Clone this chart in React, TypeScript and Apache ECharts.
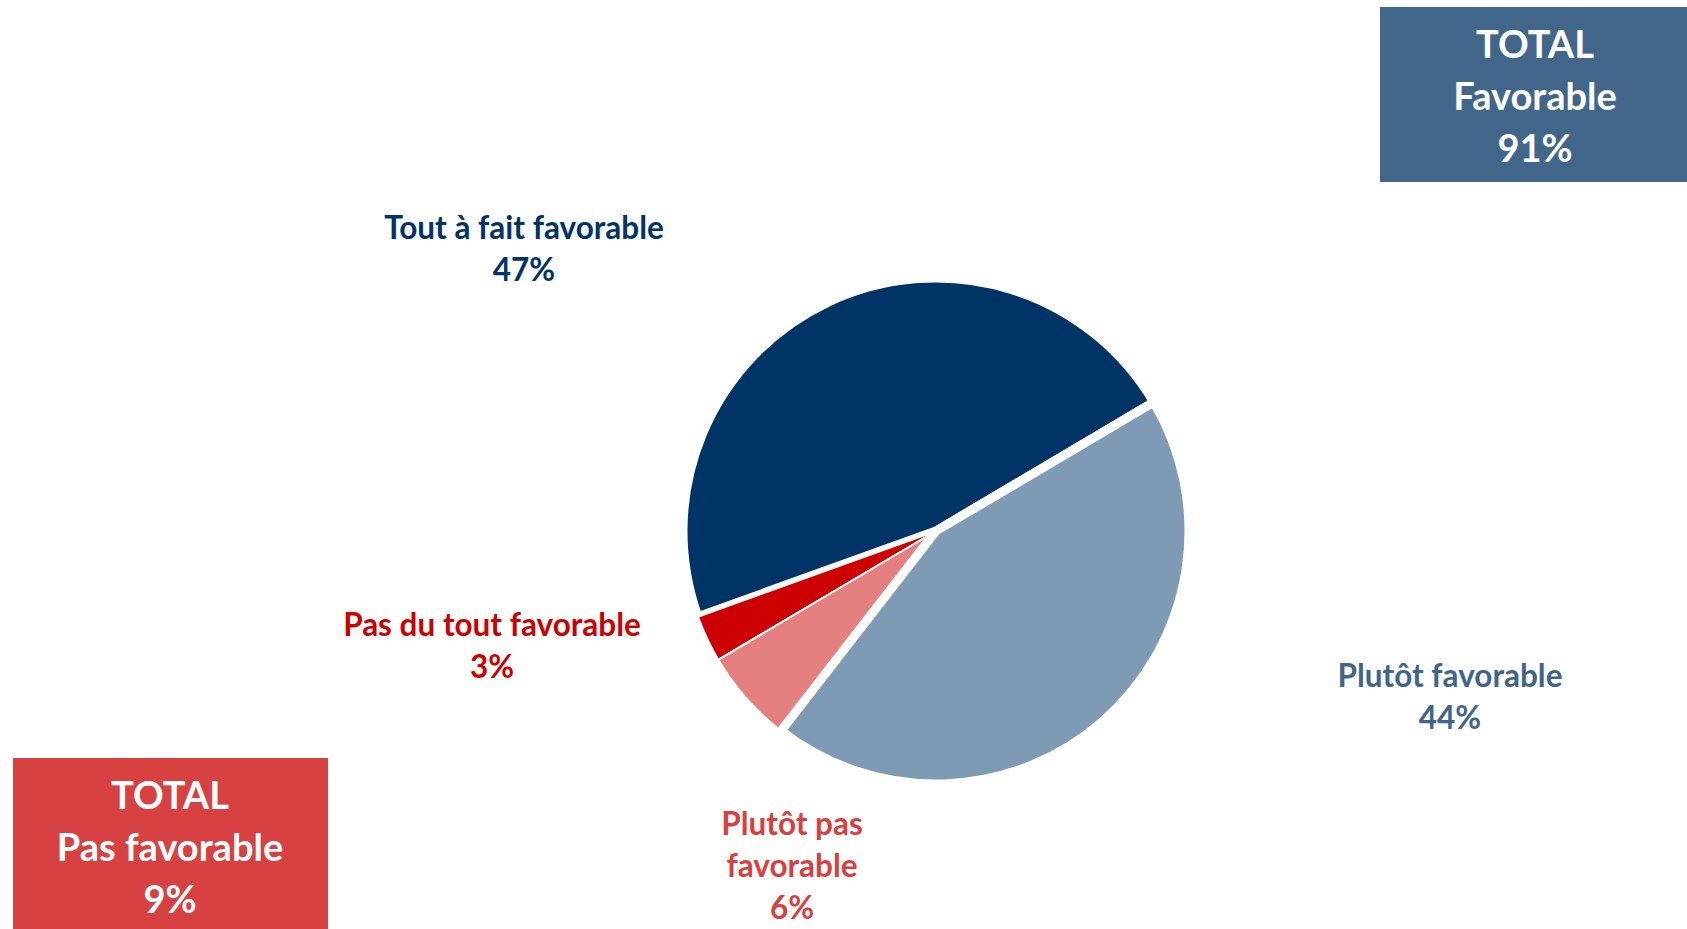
import React, { useEffect, useRef } from "react";
import * as echarts from "echarts";

// Data
const categories = [
  "Tout à fait favorable",
  "Pas du tout favorable",
  "Plutôt pas favorable",
  "Plutôt favorable",
];
const labelLines = [
  ["Tout à fait favorable"],
  ["Pas du tout favorable"],
  ["Plutôt pas", "favorable"],
  ["Plutôt favorable"],
];
const values = [47, 3, 6, 44];
const sliceColors = ["#003366", "#CC0000", "#E48080", "#7F9AB4"];
const labelColors = ["#003366", "#CC0000", "#D84040", "#41658A"];
const borderWidths = [9, 2, 2, 9];
// label anchor positions (centre of text block)
const labelPos = [
  [524, 248],
  [492, 645],
  [792, 865],
  [1450, 696],
];
const favorableIdx = [0, 3];
const pasFavorableIdx = [1, 2];

const FONT = "Lato";

export default function App() {
  const ref = useRef<HTMLDivElement>(null);
  useEffect(() => {
    if (!ref.current) return;
    const chart = echarts.init(ref.current, null, { renderer: "svg" });
    const totalFav = favorableIdx.reduce((s, i) => s + values[i], 0);
    const totalPas = pasFavorableIdx.reduce((s, i) => s + values[i], 0);
    chart.setOption({
      animation: false,
      backgroundColor: "#ffffff",
      series: [
        {
          type: "pie",
          center: [936, 531],
          radius: 253,
          startAngle: 30.6,
          clockwise: false,
          data: categories.map((c, i) => ({
            name: c,
            value: values[i],
            itemStyle: {
              color: sliceColors[i],
              borderColor: "#ffffff",
              borderWidth: borderWidths[i],
            },
            label: { color: labelColors[i] },
          })),
          label: {
            show: true,
            position: "outside",
            fontFamily: FONT,
            fontWeight: "bold",
            fontSize: 31.5,
            lineHeight: 42,
            align: "center",
            formatter: (p: any) =>
              [...labelLines[p.dataIndex], `${p.value}%`].join("\n"),
          },
          labelLine: { show: false },
          labelLayout: (p: any) => ({
            x: labelPos[p.dataIndex][0],
            y: labelPos[p.dataIndex][1],
            align: "center",
            verticalAlign: "middle",
          }),
          emphasis: { disabled: true },
        },
      ],
      graphic: [
        {
          type: "rect",
          shape: { x: 1380, y: 7, width: 307, height: 175 },
          style: { fill: "#42658A" },
        },
        {
          type: "text",
          x: 1535,
          y: 95,
          style: {
            text: `TOTAL\nFavorable\n${totalFav}%`,
            fill: "#ffffff",
            font: `bold 38px ${FONT}`,
            lineHeight: 52,
            align: "center",
            verticalAlign: "middle",
          },
        },
        {
          type: "rect",
          shape: { x: 13, y: 758, width: 315, height: 180 },
          style: { fill: "#D84141" },
        },
        {
          type: "text",
          x: 170,
          y: 846,
          style: {
            text: `TOTAL\nPas favorable\n${totalPas}%`,
            fill: "#ffffff",
            font: `bold 38px ${FONT}`,
            lineHeight: 52,
            align: "center",
            verticalAlign: "middle",
          },
        },
      ],
    });
    return () => chart.dispose();
  }, []);
  return (
    <div
      ref={ref}
      style={{ position: "fixed", left: 0, top: 0, width: 1687, height: 929 }}
    />
  );
}
